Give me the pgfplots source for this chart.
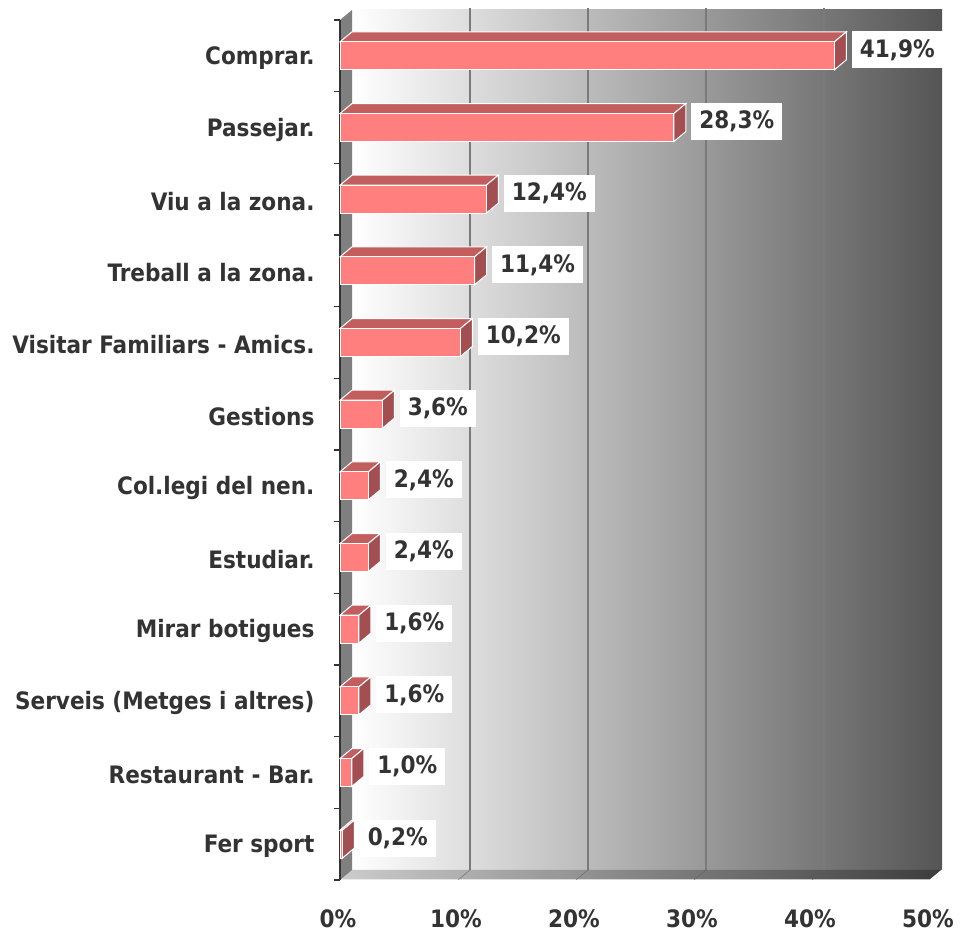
\documentclass[border=0pt]{standalone}
\usepackage{pgfplots}
\pgfplotsset{compat=1.18}
\usepackage{pgfplotstable}
\usepackage{fontspec}
\setmainfont{DejaVu Sans Condensed}
\definecolor{txt}{HTML}{333333}
\definecolor{frontc}{HTML}{FF7F7F}
\definecolor{topc}{HTML}{C25E5E}
\definecolor{sidec}{HTML}{A34F52}
\definecolor{wallr}{HTML}{555555}
\definecolor{floorl}{HTML}{CCCCCC}
\definecolor{floorr}{HTML}{3C3C3C}
\definecolor{sidewall}{HTML}{7F7F7F}
\definecolor{gridc}{HTML}{7A7A7A}

\pgfplotstableread{
idx val
0 41.9
1 28.3
2 12.4
3 11.4
4 10.2
5 3.6
6 2.4
7 2.4
8 1.6
9 1.6
10 1.0
11 0.2
}\data

\newcommand\dxx{1.017}
\newcommand\dyy{0.1395}
\newcommand\hh{0.195}

\begin{document}
\begin{tikzpicture}[font=\bfseries]
\begin{axis}[
  set layers,
  at={(340pt,53pt)}, anchor=south west,
  scale only axis, width=590pt, height=860pt,
  xmin=0, xmax=50, ymin=-0.5, ymax=11.5,
  y dir=reverse,
  clip=false,
  axis lines*=left,
  x axis line style={draw=none},
  y axis line style={draw=txt, line width=1.5pt, -},
  xtick={0,10,...,50},
  xticklabel={\pgfmathprintnumber{\tick}\%},
  /pgf/number format/assume math mode=true,
  xticklabel style={font=\fontsize{24}{28}\selectfont\bfseries, text=txt, yshift=-26pt, xshift=-2pt},
  ytick={0,...,11},
  yticklabels={Comprar.,Passejar.,Viu a la zona.,Treball a la zona.,Visitar Familiars - Amics.,Gestions,Col.legi del nen.,Estudiar.,Mirar botigues,Serveis (Metges i altres),Restaurant - Bar.,Fer sport},
  yticklabel style={font=\fontsize{24}{28}\selectfont\bfseries, text=txt, xshift=-22pt, yshift=-2pt},
  major tick length=0pt,
  extra y ticks={-0.5,0.5,...,11.5},
  extra y tick labels={},
  extra y tick style={major tick length=6pt, tick align=outside, tick style={line width=1.5pt, draw=txt}},
]
\begin{pgfonlayer}{axis background}
  \shade[left color=white, right color=wallr] (axis cs:\dxx,{-0.5-\dyy}) rectangle (axis cs:{50+\dxx},{11.5-\dyy});
  \shade[left color=floorl, right color=floorr] (axis cs:0,11.5) -- (axis cs:50,11.5) -- (axis cs:{50+\dxx},{11.5-\dyy}) -- (axis cs:\dxx,{11.5-\dyy}) -- cycle;
  \draw[white, line width=1pt] (axis cs:0,11.5) -- (axis cs:50,11.5) -- (axis cs:{50+\dxx},{11.5-\dyy});
  \fill[sidewall] (axis cs:0,-0.5) -- (axis cs:\dxx,{-0.5-\dyy}) -- (axis cs:\dxx,{11.5-\dyy}) -- (axis cs:0,11.5) -- cycle;
  \pgfplotsinvokeforeach{10,20,30,40}{
    \draw[gridc, line width=2pt] (axis cs:{#1+\dxx},{-0.5-\dyy-0.03}) -- (axis cs:{#1+\dxx},{11.5-\dyy});
    \draw[gray!70!black, line width=0.6pt, opacity=0.6] (axis cs:#1,11.5) -- (axis cs:{#1+\dxx},{11.5-\dyy});
  }
\end{pgfonlayer}

\pgfplotsinvokeforeach{0,...,11}{
  \pgfplotstablegetelem{#1}{val}\of\data
  \let\vv\pgfplotsretval
  \pgfmathsetmacro\ya{#1-\hh}
  \pgfmathsetmacro\yb{#1+\hh}
  \pgfmathsetmacro\yat{#1-\hh-\dyy}
  \pgfmathsetmacro\ybt{#1+\hh-\dyy}
  \pgfmathsetmacro\vx{\vv+\dxx}
  \edef\tmp{%
    \noexpand\addplot[fill=topc, draw=white, line width=1pt, forget plot] coordinates {(0,\ya) (\vv,\ya) (\vx,\yat) (\dxx,\yat)} -- cycle;
    \noexpand\addplot[fill=sidec, draw=white, line width=1pt, forget plot] coordinates {(\vv,\ya) (\vx,\yat) (\vx,\ybt) (\vv,\yb)} -- cycle;
  }
  \tmp
}

\addplot[xbar, bar width=28pt, fill=frontc, draw=white, line width=1pt,
  point meta=x,
  nodes near coords={\pgfmathprintnumber[fixed,fixed zerofill,precision=1,use comma]{\pgfplotspointmeta}\%},
  every node near coord/.append style={anchor=west, fill=white, text=txt,
    font=\fontsize{24}{28}\selectfont\bfseries, xshift=17pt, yshift=6pt,
    inner xsep=8pt, inner ysep=0pt, minimum height=37pt}
] table[x=val, y=idx] {\data};
\end{axis}
\pgfresetboundingbox
\path[use as bounding box] (0,0) rectangle (961pt,933pt);
\end{tikzpicture}
\end{document}
